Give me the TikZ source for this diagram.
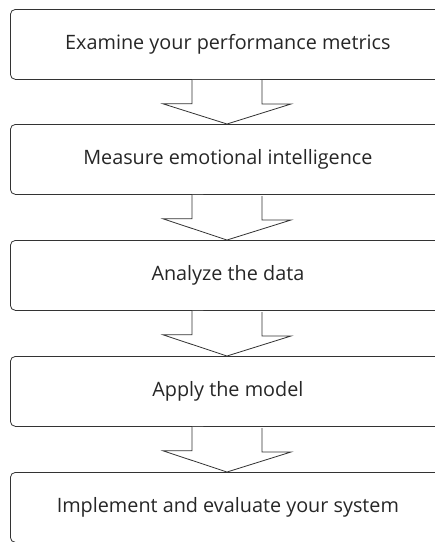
\documentclass[tikz,border=0pt]{standalone}
\usepackage{fontspec}
\setmainfont{Open Sans}
\begin{document}
\begin{tikzpicture}[x=1pt,y=-1pt,
  stage/.style={draw=black!80,line width=0.8pt,rounded corners=5pt,minimum width=435pt,minimum height=70pt,inner sep=0pt,anchor=north west,font=\fontsize{19.8}{23}\selectfont,text=black!85},
  flowarrow/.style={draw=black!80,line width=0.8pt,fill=white}]
\useasboundingbox (0,0) rectangle (435,542);
\clip (0,0) rectangle (435,542);
\node[stage] (s1) at (10,9) {Examine your performance metrics};
\node[stage] (s2) at (10,124) {Measure emotional intelligence};
\node[stage] (s3) at (10,240) {Analyze the data};
\node[stage] (s4) at (10,356) {Apply the model};
\node[stage] (s5) at (10,472) {Implement and evaluate your system};
\foreach \a/\b in {s1/s2,s2/s3,s3/s4,s4/s5}{
  \draw[flowarrow] ([xshift=-35pt]\a.south -| 227,0) -- ++(0,24) -- ++(-29,0) -- (\b.north -| 227,0) -- ++(64,-20) -- ++(-29,0) -- ++(0,-24);
}
\end{tikzpicture}
\end{document}
